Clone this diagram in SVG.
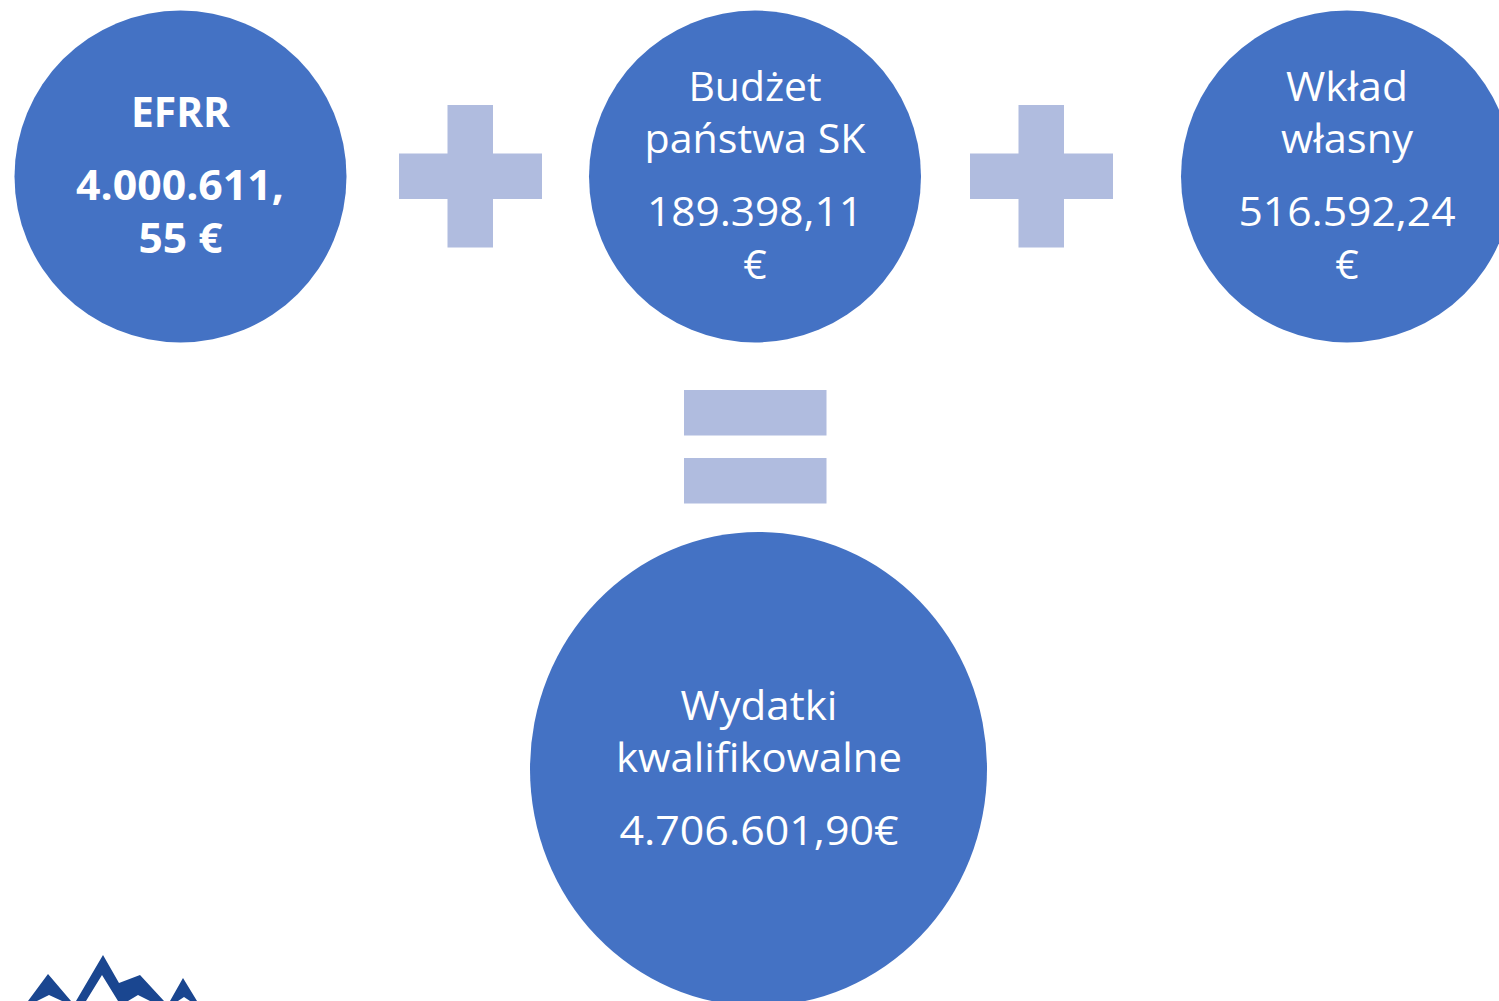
<svg xmlns="http://www.w3.org/2000/svg" width="1499" height="1001" viewBox="0 0 1499 1001">
<style>
.c{fill:#4472c4}
.o{fill:#b0bcdf}
text{font-family:"Open Sans","Noto Sans","Liberation Sans",sans-serif;font-size:41px;fill:#fff;text-anchor:middle}
.b{font-weight:700}
</style>
<rect width="1499" height="1001" fill="#fff"/>
<g id="efrr"><circle class="c" cx="180.500" cy="176.500" r="166"/>
<text class="b" x="180.500" y="127" textLength="99" lengthAdjust="spacingAndGlyphs">EFRR</text><text class="b" x="180" y="200" textLength="208" lengthAdjust="spacingAndGlyphs">4.000.611,</text><text class="b" x="180.500" y="253" textLength="84" lengthAdjust="spacingAndGlyphs">55 €</text></g>
<g id="plus1"><path class="o" d="M447.500 105h45.500v48.500h49v45.500h-49v48.500h-45.500v-48.500h-48.500v-45.500h48.500z"/></g>
<g id="budzet"><circle class="c" cx="755" cy="176.500" r="166"/>
<text x="755" y="101" textLength="133" lengthAdjust="spacingAndGlyphs">Budżet</text><text x="755" y="153" textLength="221" lengthAdjust="spacingAndGlyphs">państwa SK</text><text x="755" y="226" textLength="216" lengthAdjust="spacingAndGlyphs">189.398,11</text><text x="755" y="279">€</text></g>
<g id="plus2"><path class="o" d="M1018.500 105h45.500v48.500h49v45.500h-49v48.500h-45.500v-48.500h-48.500v-45.500h48.500z"/></g>
<g id="wklad"><circle class="c" cx="1347" cy="176.500" r="166"/>
<text x="1347" y="101" textLength="122" lengthAdjust="spacingAndGlyphs">Wkład</text><text x="1347" y="153" textLength="132" lengthAdjust="spacingAndGlyphs">własny</text><text x="1347" y="226" textLength="217" lengthAdjust="spacingAndGlyphs">516.592,24</text><text x="1347" y="279">€</text></g>
<g id="equals"><rect class="o" x="684" y="390" width="142.500" height="45.500"/><rect class="o" x="684" y="458" width="142.500" height="45.500"/></g>
<g id="wydatki"><ellipse class="c" cx="758.500" cy="769" rx="228.500" ry="237"/>
<text x="759" y="720" textLength="157" lengthAdjust="spacingAndGlyphs">Wydatki</text><text x="759" y="772" textLength="286" lengthAdjust="spacingAndGlyphs">kwalifikowalne</text><text x="759" y="845" textLength="279" lengthAdjust="spacingAndGlyphs">4.706.601,90€</text></g>
<g id="logo"><path fill="#1a4690" d="M28 1001L48 974L71 1001H62L49 995L37 1001ZM76 1001L103 955L119 983L140 975L164 1001H150L138 995L128 1001H118L102 975L86 1001ZM170 1001L183 978L197 1001H190L184 997L178 1001Z"/></g>
</svg>
